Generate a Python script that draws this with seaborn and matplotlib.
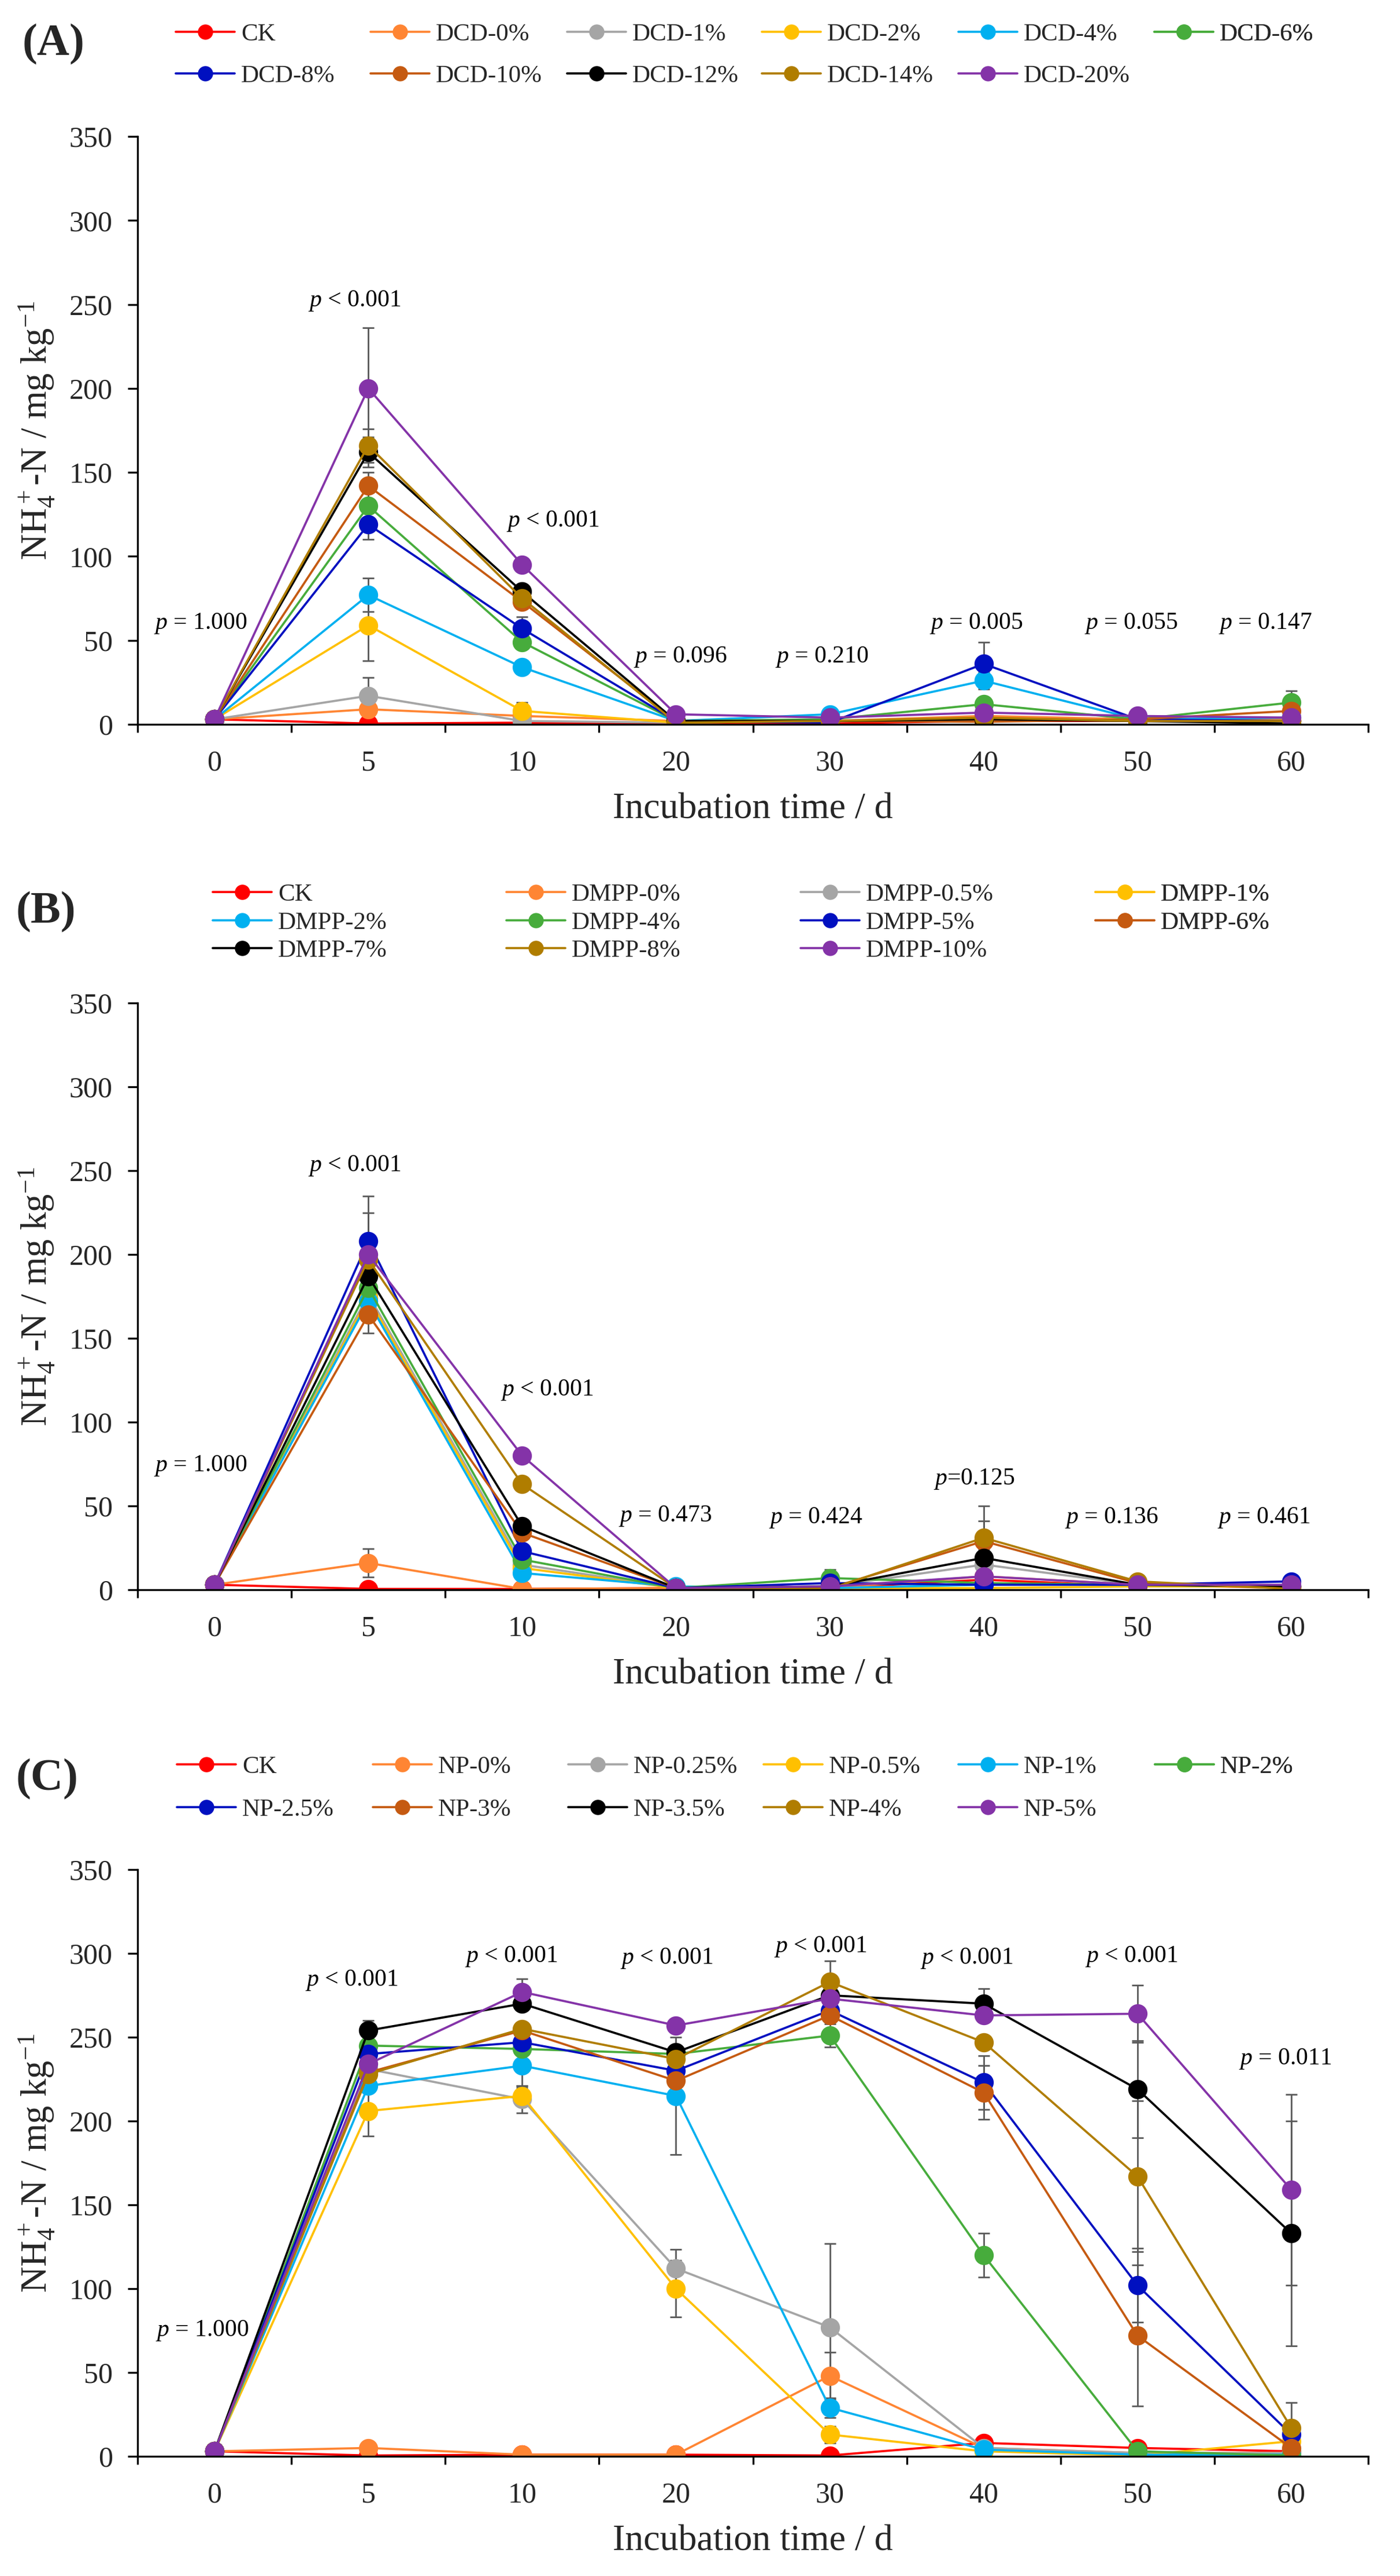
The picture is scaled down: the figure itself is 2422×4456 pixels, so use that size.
import numpy as np
import pandas as pd
import matplotlib
matplotlib.use("Agg")
import matplotlib.pyplot as plt
import seaborn as sns
from matplotlib.lines import Line2D
from matplotlib.ticker import FixedLocator, NullFormatter, FixedFormatter

# ---------------- data ----------------
days = ['0', '5', '10', '20', '30', '40', '50', '60']

colors = ['#FF0000', '#FF8533', '#A5A5A5', '#FFC000', '#00B0F0', '#47AC3C',
          '#0010C0', '#C55A11', '#000000', '#B07D00', '#8433A8']

dcd_labels = ['CK', 'DCD-0%', 'DCD-1%', 'DCD-2%', 'DCD-4%', 'DCD-6%',
              'DCD-8%', 'DCD-10%', 'DCD-12%', 'DCD-14%', 'DCD-20%']
dcd_values = [
    [3, 0.5, 1, 1, 0.5, 2, 2, 2],
    [3, 9, 5, 2, 2, 5, 3, 3],
    [3, 17, 2, 1, 2, 3, 2, 2],
    [3, 59, 8, 1, 2, 3, 2, 2],
    [3, 77, 34, 2, 6, 26, 3, 4],
    [3, 130, 49, 2, 3, 12, 3, 13],
    [3, 119, 57, 2, 1, 36, 3, 2],
    [3, 142, 73, 2, 2, 1.5, 3, 8],
    [3, 162, 79, 2, 2, 3, 2, 0.5],
    [3, 166, 75, 1, 2, 4, 2, 2],
    [3, 200, 95, 6, 4, 7, 5, 4],
]
dcd_errors = [
    [0, 0.5, 0, 0, 0, 0, 0, 0],
    [0, 3, 0, 0, 0, 0, 0, 0],
    [0, 11, 0, 0, 0, 0, 0, 0],
    [0, 21, 5, 0, 0, 0, 0, 0],
    [0, 10, 4, 0, 0, 5, 0, 0],
    [0, 8, 3, 0, 0, 3, 0, 7],
    [0, 9, 7, 0, 0, 13, 0, 0],
    [0, 8, 4, 0, 0, 0, 0, 0],
    [0, 9, 4, 0, 0, 0, 0, 0],
    [0, 10, 0, 0, 0, 0, 0, 0],
    [0, 36, 3, 0, 0, 0, 0, 0],
]
dcd_pvals = ['= 1.000', '< 0.001', '< 0.001', '= 0.096', '= 0.210',
             '= 0.005', '= 0.055', '= 0.147']

dmpp_labels = ['CK', 'DMPP-0%', 'DMPP-0.5%', 'DMPP-1%', 'DMPP-2%', 'DMPP-4%',
               'DMPP-5%', 'DMPP-6%', 'DMPP-7%', 'DMPP-8%', 'DMPP-10%']
dmpp_values = [
    [3, 0.5, 0.5, 1, 1, 6, 2, 2],
    [3, 16, 0.5, 1, 1, 8, 3, 1],
    [3, 176, 15, 1, 2, 15, 3, 2],
    [3, 174, 13, 1, 1, 1, 2, 2],
    [3, 172, 10, 2, 1, 3, 3, 2],
    [3, 180, 18, 1, 7, 4, 3, 2],
    [3, 208, 23, 1, 4, 3, 3, 5],
    [3, 164, 34, 1, 1, 29, 4, 1],
    [3, 187, 38, 1, 2, 19, 3, 2],
    [3, 197, 63, 1, 0.5, 31, 5, 0.5],
    [3, 200, 80, 1, 2, 8, 3, 3],
]
dmpp_errors = [
    [0, 0, 0, 0, 0, 0, 0, 0],
    [0, 8.5, 0, 0, 0, 0, 0, 0],
    [0, 0, 0, 0, 0, 0, 0, 0],
    [0, 0, 0, 0, 0, 0, 0, 0],
    [0, 0, 0, 0, 0, 0, 0, 0],
    [0, 0, 0, 0, 5, 0, 0, 0],
    [0, 27, 0, 0, 0, 0, 0, 0],
    [0, 11, 0, 0, 0, 12, 0, 0],
    [0, 0, 0, 0, 0, 5, 0, 0],
    [0, 0, 0, 0, 0, 19, 0, 0],
    [0, 25, 0, 0, 0, 0, 0, 0],
]
dmpp_pvals = ['= 1.000', '< 0.001', '< 0.001', '= 0.473', '= 0.424',
              '=0.125', '= 0.136', '= 0.461']

np_labels = ['CK', 'NP-0%', 'NP-0.25%', 'NP-0.5%', 'NP-1%', 'NP-2%',
             'NP-2.5%', 'NP-3%', 'NP-3.5%', 'NP-4%', 'NP-5%']
np_values = [
    [3, 0.5, 1, 1, 0.5, 8, 5, 3],
    [3, 5, 1, 1, 48, 5, 2, 2],
    [3, 231, 213, 112, 77, 5, 2, 2],
    [3, 206, 215, 100, 13, 3, 0.5, 9],
    [3, 221, 233, 215, 29, 4, 1, 1],
    [3, 245, 243, 240, 251, 120, 3, 0.5],
    [3, 240, 247, 230, 266, 223, 102, 13],
    [3, 229, 254, 224, 263, 217, 72, 5],
    [3, 254, 270, 241, 275, 270, 219, 133],
    [3, 228, 255, 237, 283, 247, 167, 17],
    [3, 234, 277, 257, 273, 263, 264, 159],
]
np_errors = [
    [0, 0, 0, 0, 0, 0, 0, 0],
    [0, 0, 0, 0, 14, 0, 0, 0],
    [0, 0, 8, 11.5, 50, 0, 0, 0],
    [0, 15, 5, 17, 5, 0, 0, 0],
    [0, 0, 12, 35, 6, 0, 0, 0],
    [0, 4, 0, 0, 7, 13, 0, 0],
    [0, 0, 0, 0, 0, 16, 22, 0],
    [0, 0, 0, 0, 0, 16, 42, 0],
    [0, 6, 0, 0, 0, 9, 29, 67],
    [0, 0, 0, 0, 12.6, 0, 45, 15],
    [0, 0, 8, 0, 0, 0, 17, 57],
]
np_pvals = ['= 1.000', '< 0.001', '< 0.001', '< 0.001', '< 0.001',
            '< 0.001', '< 0.001', '= 0.011']

# ---------------- style ----------------
sns.set_theme(style='white')
plt.rcParams['font.family'] = ['Liberation Serif', 'DejaVu Serif']
plt.rcParams['mathtext.fontset'] = 'custom'
plt.rcParams['mathtext.rm'] = 'Liberation Serif'
plt.rcParams['mathtext.it'] = 'Liberation Serif:italic'
plt.rcParams['mathtext.bf'] = 'Liberation Serif:bold'

W, H = 2422, 4456
fig = plt.figure(figsize=(W / 100, H / 100), dpi=100)
fig.patch.set_facecolor('white')

AX_L, AX_R = 238, 2367

panels = [
    dict(tag='(A)', tag_xy=(39, 77), labels=dcd_labels, values=dcd_values,
         errors=dcd_errors, pvals=dcd_pvals, top=236, bottom=1253,
         p_xy=[(-0.09, 60), (0.91, 252), (2.2, 121), (3.03, 40), (3.95, 40),
               (4.95, 60), (5.96, 60), (6.83, 60)],
         ncol=6, leg_x=[304, 641, 981, 1318, 1658, 1997], leg_top=40, leg_sp=0.76),
    dict(tag='(B)', tag_xy=(28, 1578), labels=dmpp_labels, values=dmpp_values,
         errors=dmpp_errors, pvals=dmpp_pvals, top=1735, bottom=2750,
         p_xy=[(-0.09, 74), (0.91, 253), (2.16, 119), (2.93, 44), (3.91, 43),
               (4.94, 66), (5.83, 43), (6.82, 43)],
         ncol=4, leg_x=[368, 876, 1385, 1895], leg_top=1528, leg_sp=0.22),
    dict(tag='(C)', tag_xy=(28, 3078), labels=np_labels, values=np_values,
         errors=np_errors, pvals=np_pvals, top=3234, bottom=4249,
         p_xy=[(-0.08, 75), (0.89, 284), (1.93, 298), (2.94, 297), (3.94, 304),
               (4.89, 297), (5.96, 298), (6.96, 237)],
         ncol=6, leg_x=[306, 645, 983, 1321, 1658, 1998], leg_top=3037, leg_sp=0.80),
]

LW = 2.7
MS = 24

for P in panels:
    ax = fig.add_axes([AX_L / W, 1 - P['bottom'] / H, (AX_R - AX_L) / W,
                       (P['bottom'] - P['top']) / H])
    rows = []
    for lab, vals in zip(P['labels'], P['values']):
        for i, v in enumerate(vals):
            rows.append({'pos': i, 'day': days[i], 'treatment': lab, 'value': v})
    df = pd.DataFrame(rows)

    # error bars (behind lines)
    x = np.arange(len(days))
    for vals, errs in zip(P['values'], P['errors']):
        v = np.asarray(vals, float)
        e = np.asarray(errs, float)
        m = e > 0
        if m.any():
            ax.errorbar(x[m], v[m], yerr=e[m], fmt='none', ecolor='#595959',
                        elinewidth=2.0, capsize=7, capthick=2.0, zorder=1.5)

    sns.lineplot(data=df, x='pos', y='value', hue='treatment',
                 hue_order=P['labels'], palette=colors, marker='o',
                 markersize=MS, markeredgewidth=0, linewidth=LW,
                 legend=False, sort=False, errorbar=None, ax=ax)

    ax.set_xlim(-0.5, 7.5)
    ax.set_ylim(0, 350)
    ax.set_yticks(np.arange(0, 351, 50))
    ax.xaxis.set_major_locator(FixedLocator(np.arange(-0.5, 8.0, 1.0)))
    ax.xaxis.set_major_formatter(NullFormatter())
    ax.xaxis.set_minor_locator(FixedLocator(np.arange(0, 8)))
    ax.xaxis.set_minor_formatter(FixedFormatter(days))
    ax.tick_params(axis='x', which='major', direction='out', length=10,
                   width=2.4, color='black', bottom=True)
    ax.tick_params(axis='x', which='minor', length=0, pad=32, labelsize=36,
                   bottom=True)
    ax.tick_params(axis='y', direction='out', length=12, width=2.4,
                   color='black', pad=19, labelsize=36, left=True)
    for s in ['top', 'right']:
        ax.spines[s].set_visible(False)
    for s in ['left', 'bottom']:
        ax.spines[s].set_linewidth(2.4)
        ax.spines[s].set_color('black')
    ax.grid(False)

    ax.set_xlabel('Incubation time / d', fontsize=46)
    ax.xaxis.set_label_coords(0.5, -0.117)
    ax.set_ylabel(r'NH$_4^+$-N / mg kg$^{-1}$', fontsize=45)
    ax.yaxis.set_label_coords(-0.0658, 0.5)

    for (px, py), txt in zip(P['p_xy'], P['pvals']):
        ax.text(px, py, r'$p$ ' + txt if not txt.startswith('=0') else r'$p$' + txt,
                fontsize=30, ha='center', va='center', color='black')

    fig.text(P['tag_xy'][0] / W, 1 - P['tag_xy'][1] / H, P['tag'],
             fontsize=56, fontweight='bold', ha='left', va='center')

    handles = [Line2D([0], [0], color=c, lw=LW, marker='o', markersize=19,
                      markeredgewidth=0) for c in colors]
    n = len(handles)
    ncol = P['ncol']
    for c in range(ncol):
        idx = list(range(c, n, ncol))
        leg = ax.legend([handles[i] for i in idx], [P['labels'][i] for i in idx],
                        loc='upper left',
                        bbox_to_anchor=(P['leg_x'][c] / W, 1 - P['leg_top'] / H),
                        bbox_transform=fig.transFigure, frameon=False, ncol=1,
                        handlelength=2.37, handletextpad=0.25, borderpad=0,
                        borderaxespad=0, labelspacing=P['leg_sp'], fontsize=31)
        ax.add_artist(leg)

fig.savefig('out.png', dpi=100, facecolor='white')
